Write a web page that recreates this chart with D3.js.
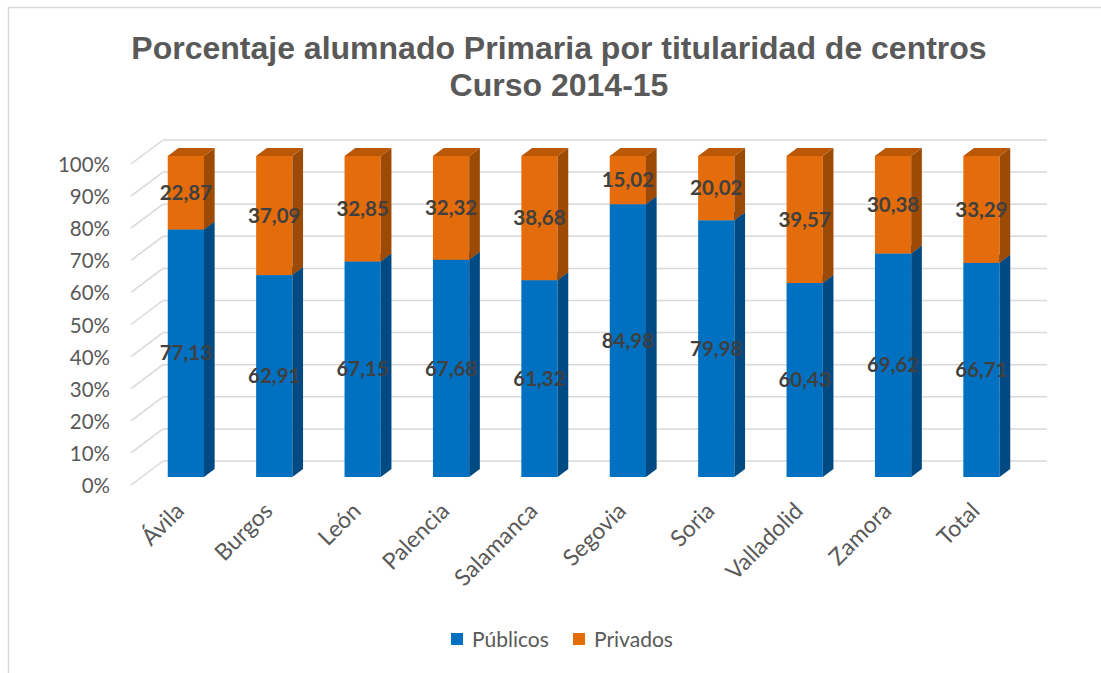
<!DOCTYPE html>
<html>
<head>
<meta charset="utf-8">
<script src="https://cdn.jsdelivr.net/npm/d3@7/dist/d3.min.js"></script>
<style>
  html, body { margin: 0; padding: 0; background: #fff; }
  svg { display: block; }
</style>
</head>
<body>
<svg id="chart" width="1101" height="673"></svg>
<script>
// ---- Data ----
const categories = ["Ávila", "Burgos", "León", "Palencia", "Salamanca", "Segovia", "Soria", "Valladolid", "Zamora", "Total"];
const publicos = [77.13, 62.91, 67.15, 67.68, 61.32, 84.98, 79.98, 60.43, 69.62, 66.71];
const privados = [22.87, 37.09, 32.85, 32.32, 38.68, 15.02, 20.02, 39.57, 30.38, 33.29];
const publicosLabels = ["77,13", "62,91", "67,15", "67,68", "61,32", "84,98", "79,98", "60,43", "69,62", "66,71"];
const privadosLabels = ["22,87", "37,09", "32,85", "32,32", "38,68", "15,02", "20,02", "39,57", "30,38", "33,29"];
const yTicks = [0, 10, 20, 30, 40, 50, 60, 70, 80, 90, 100];
const seriesNames = ["Públicos", "Privados"];
const titleLines = ["Porcentaje alumnado Primaria por titularidad de centros", "Curso 2014-15"];

// ---- Styles ----
const colors = {
  pub: { front: "#0070C0", side: "#004A84", top: "#005A9E" },
  pri: { front: "#E46C0A", side: "#9C4A06", top: "#BA5808" }
};
const textGray = "#595959";
const gridColor = "#D9D9D9";

const svg = d3.select("#chart");

// chart border
svg.append("rect").attr("x", 8.5).attr("y", 7.5).attr("width", 1110).attr("height", 680)
  .attr("fill", "none").attr("stroke", gridColor).attr("stroke-width", 1.5);

// title
svg.append("g").selectAll("text").data(titleLines).join("text")
  .attr("x", 559).attr("y", (d, i) => 59 + i * 37)
  .attr("text-anchor", "middle")
  .attr("font-family", "Liberation Sans, Arial, sans-serif")
  .attr("font-weight", "bold").attr("font-size", 32)
  .attr("fill", textGray)
  .text(d => d);

// ---- Scales (front plane) ----
const x = d3.scaleBand().domain(categories).range([131, 1015]).padding(0);
const y = d3.scaleLinear().domain([0, 100]).range([485, 164]);
const depth = { dx: 32, dy: -24 };           // full depth of the 3D floor
const barF = 1 / 3, barB = 2 / 3;             // bar front / back depth fractions
const barW = x.bandwidth() * 0.41;

// gridlines: side wall diagonals + back wall horizontals
const grid = svg.append("g");
yTicks.forEach(t => {
  const yf = y(t), yb = y(t) + depth.dy;
  grid.append("line").attr("x1", 131).attr("y1", yf).attr("x2", 131 + depth.dx).attr("y2", yb)
    .attr("stroke", gridColor).attr("stroke-width", 1.5);
  grid.append("line").attr("x1", 131 + depth.dx).attr("y1", yb).attr("x2", 1015 + depth.dx).attr("y2", yb)
    .attr("stroke", gridColor).attr("stroke-width", 1.5);
});

// y axis labels
const yAxis = d3.axisLeft(y).tickValues(yTicks).tickFormat(d => d + "%").tickSize(0).tickPadding(21);
const ya = svg.append("g").attr("transform", "translate(131,1)").call(yAxis);
ya.select(".domain").remove();
ya.selectAll("text").attr("font-family", "Lato, sans-serif").attr("font-size", 20.5).attr("fill", textGray);

// bars
const ox = depth.dx * barF, oy = depth.dy * barF;
const bx = depth.dx * (barB - barF), by = depth.dy * (barB - barF);
function drawSeg(g, xl, y0, y1, c) {
  const xr = xl + barW;
  g.append("rect").attr("x", xl).attr("y", y1).attr("width", barW).attr("height", y0 - y1).attr("fill", c.front);
  g.append("path").attr("d", `M${xr},${y0}L${xr + bx},${y0 + by}L${xr + bx},${y1 + by}L${xr},${y1}Z`).attr("fill", c.side);
  g.append("path").attr("d", `M${xl},${y1}L${xl + bx},${y1 + by}L${xr + bx},${y1 + by}L${xr},${y1}Z`).attr("fill", c.top);
}
const bars = svg.append("g");
const labels = [];
categories.forEach((cat, i) => {
  const cx = x(cat) + x.bandwidth() / 2 + ox;
  const xl = cx - barW / 2;
  const yb0 = y(0) + oy, yb1 = y(publicos[i]) + oy, yb2 = y(publicos[i] + privados[i]) + oy;
  const g = bars.append("g");
  drawSeg(g, xl, yb0, yb1, colors.pub);
  drawSeg(g, xl, yb1, yb2, colors.pri);
  labels.push({ x: cx, y: (yb0 + yb1) / 2, t: publicosLabels[i] });
  labels.push({ x: cx, y: (yb1 + yb2) / 2, t: privadosLabels[i] });
});
svg.append("g").selectAll("text").data(labels).join("text")
  .attr("x", d => d.x).attr("y", d => d.y).attr("dy", "0.35em")
  .attr("text-anchor", "middle")
  .attr("font-family", "Lato, sans-serif").attr("font-weight", "bold").attr("font-size", 20.5)
  .attr("fill", "#404040")
  .text(d => d.t);

// x labels
svg.append("g").selectAll("text").data(categories).join("text")
  .attr("transform", d => `translate(${x(d) + x.bandwidth() / 2 - 1},${501}) rotate(-45)`)
  .attr("text-anchor", "end").attr("dy", "0.7em")
  .attr("font-family", "Lato, sans-serif").attr("font-size", 23).attr("fill", textGray)
  .text(d => d);

// legend
const legend = svg.append("g");
const legendItems = [{ n: seriesNames[0], c: colors.pub.front, x: 451 }, { n: seriesNames[1], c: colors.pri.front, x: 573 }];
legendItems.forEach(it => {
  legend.append("rect").attr("x", it.x).attr("y", 633).attr("width", 12).attr("height", 12).attr("fill", it.c);
  legend.append("text").attr("x", it.x + 21).attr("y", 646.5)
    .attr("font-family", "Lato, sans-serif").attr("font-size", 21).attr("fill", textGray).text(it.n);
});
</script>
</body>
</html>
